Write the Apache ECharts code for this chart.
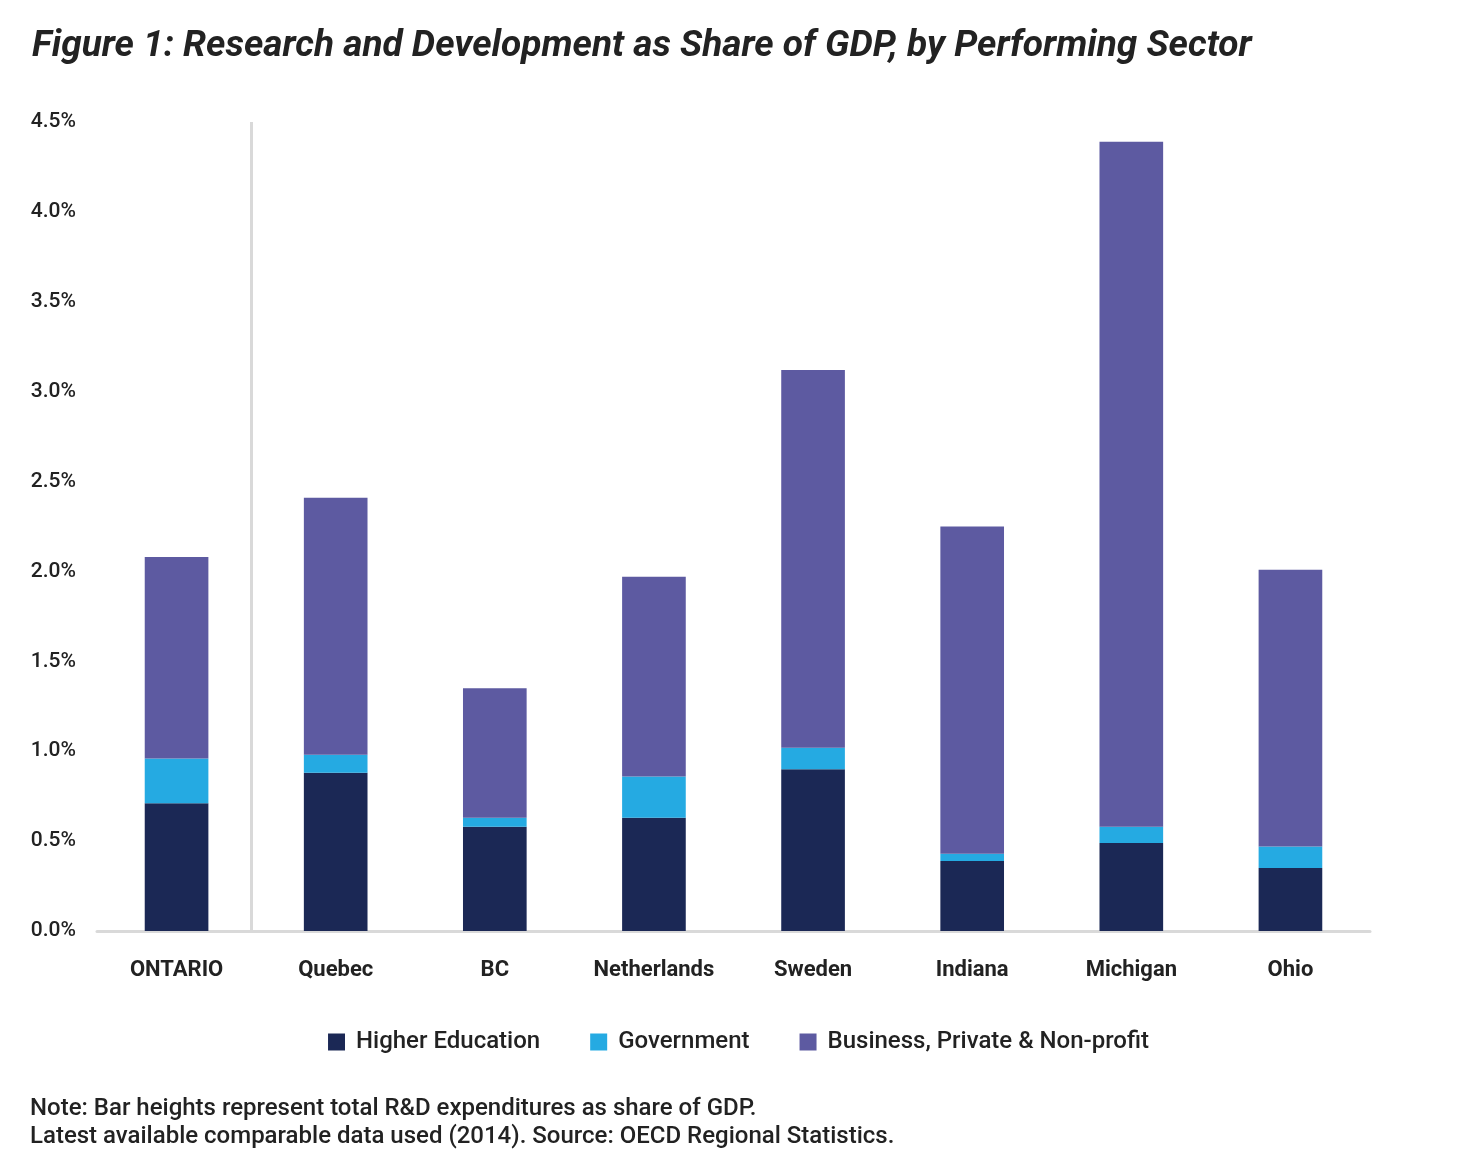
<!DOCTYPE html>
<html><head><meta charset="utf-8">
<script src="https://cdn.jsdelivr.net/npm/echarts@6/dist/echarts.min.js"></script>
<style>html,body{margin:0;padding:0;background:#fff}#c{width:1477px;height:1158px}</style>
</head><body><div id="c"></div>
<script>
const categories = ['ONTARIO','Quebec','BC','Netherlands','Sweden','Indiana','Michigan','Ohio'];
const higherEducation = [0.71, 0.88, 0.58, 0.63, 0.90, 0.39, 0.49, 0.35];
const government = [0.25, 0.10, 0.05, 0.23, 0.12, 0.04, 0.09, 0.12];
const business = [1.12, 1.43, 0.72, 1.11, 2.10, 1.82, 3.81, 1.54];
const seriesNames = ['Higher Education','Government','Business, Private & Non-profit'];
const separatorAfter = 0.97; // divider between ONTARIO and the others
const colors = ['#1b2855','#25aae2','#5d5aa1'];
const FONT = 'Roboto,"Noto Sans",sans-serif';
const chart = echarts.init(document.getElementById('c'));
const data = [higherEducation, government, business];
const series = data.map((d,i)=>({name:seriesNames[i], type:'bar', stack:'total', data:d, barWidth:'40%',
    itemStyle:{color:colors[i]}}));
series.push({type:'scatter', xAxisIndex:1, data:[], silent:true,
  markLine:{silent:true, symbol:'none', label:{show:false},
    lineStyle:{color:'#d9d9d9', width:3, type:'solid'}, data:[{xAxis:separatorAfter}]}});
chart.setOption({
  animation:false,
  textStyle:{fontFamily:FONT},
  title:[
    {text:'Figure 1: Research and Development as Share of GDP, by Performing Sector', left:32, top:28, padding:0,
     textStyle:{fontFamily:FONT, fontStyle:'italic', fontWeight:'bold', fontSize:37, color:'#222'}},
    {text:'Note: Bar heights represent total R&D expenditures as share of GDP.\nLatest available comparable data used (2014). Source: OECD Regional Statistics.',
     left:30, top:1095, padding:0, textStyle:{fontFamily:FONT, fontWeight:500, fontSize:24, lineHeight:28, color:'#222'}}
  ],
  legend:{bottom:99, left:'center', itemWidth:17, itemHeight:17, itemGap:50, icon:'rect',
    textStyle:{fontFamily:FONT, fontSize:24, fontWeight:500, color:'#222', padding:[0,0,0,6]}, data:seriesNames},
  grid:{left:97, right:107, top:122, bottom:227},
  xAxis:[{type:'category', data:categories,
    axisLine:{lineStyle:{color:'#d9d9d9', width:3}}, axisTick:{show:false},
    axisLabel:{interval:0, fontFamily:FONT, fontSize:22, fontWeight:'bold', color:'#222', margin:28},
    splitLine:{show:false}},
    {type:'value', min:0, max:categories.length, show:false}],
  yAxis:{type:'value', min:0, max:4.5, interval:0.5,
    axisLine:{show:false}, axisTick:{show:false}, splitLine:{show:false},
    axisLabel:{fontFamily:FONT, fontSize:21, fontWeight:500, color:'#222', margin:21,
      formatter:function(v){return v.toFixed(1)+'%';}}},
  series: series
});
</script></body></html>
